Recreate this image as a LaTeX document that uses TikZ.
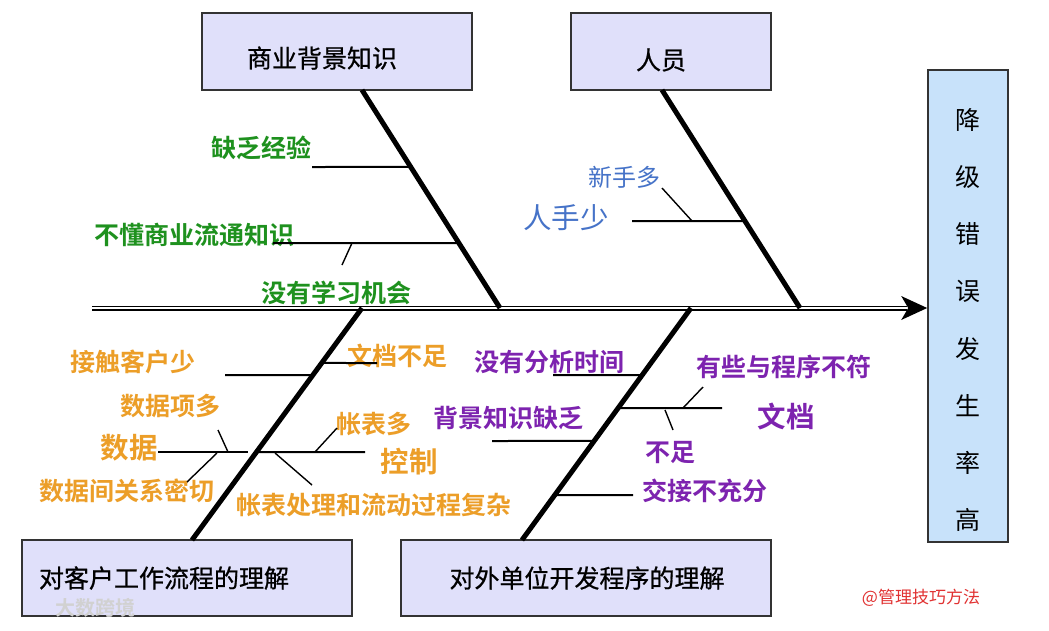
\documentclass[tikz,border=0pt]{standalone}
\usepackage{fontspec}
\setmainfont{Noto Sans CJK SC}[BoldFont=* Bold]
\newfontfamily\titlecjk{Noto Sans CJK SC}[FakeBold=0.7]
\usetikzlibrary{calc}
\definecolor{lav}{RGB}{224,224,250}
\definecolor{effblue}{RGB}{200,226,250}
\definecolor{cgreen}{RGB}{30,145,30}
\definecolor{corange}{RGB}{236,158,40}
\definecolor{cpurple}{RGB}{125,35,175}
\definecolor{cblue}{RGB}{70,115,200}
\definecolor{cred}{RGB}{225,50,50}
\begin{document}
\begin{tikzpicture}[x=1pt,y=-1pt,
  catbox/.style={draw=black!80,line width=1.6pt,fill=lav,inner sep=0},
  effbox/.style={draw=black!80,line width=1.6pt,fill=effblue,inner sep=0},
  title/.style={inner sep=0,font=\fontsize{25}{30}\titlecjk},
  lbl/.style={inner sep=0,font=\fontsize{25}{30}\selectfont\bfseries},
  biglbl/.style={inner sep=0,font=\fontsize{28.5}{32}\selectfont\bfseries},
  bone/.style={line width=5pt},
  twig/.style={line width=2pt},
  tickln/.style={line width=1.4pt},
  spine/.style={line width=1.3pt,double=white,double distance=2.4pt}]
\useasboundingbox (0,0) rectangle (1049,630);
\fill[white] (0,0) rectangle (1049,630);

% category boxes
\node[catbox,minimum width=270,minimum height=77] (bizbox) at (337,51.5) {};
\node[title] (biztxt) at (322,58) {商业背景知识};
\node[catbox,minimum width=200,minimum height=77] (pplbox) at (671,51.5) {};
\node[title] (ppltxt) at (661,60) {人员};
\node[catbox,minimum width=330,minimum height=76] (custbox) at (187,578) {};
\node[title] (custtxt) at (164,578) {对客户工作流程的理解};
\node[catbox,minimum width=370,minimum height=76] (devbox) at (586,578) {};
\node[title] (devtxt) at (587,578) {对外单位开发程序的理解};

% effect box
\node[effbox,minimum width=80,minimum height=472] (effect) at (968,306) {};
\node[inner sep=0,align=center,font=\fontsize{25}{57.1}\selectfont] (efftxt) at (968,320)
  {降\\级\\错\\误\\发\\生\\率\\高};

% spine
\coordinate (tail) at (92,308);
\coordinate (head) at (effect.west |- tail);
\draw[spine] (tail) -- ($(head)+(-20,0)$);
\fill (head) -- ++(-26,-12) -- ++(7,12) -- ++(-7,12) -- cycle;

% bones
\coordinate (tTL) at (362,90);  \coordinate (jTL) at (500,308);
\coordinate (tTR) at (662,90);  \coordinate (jTR) at (800,308);
\coordinate (jBL) at (362,308); \coordinate (tBL) at (192,540);
\coordinate (jBR) at (691,308); \coordinate (tBR) at (522,540);
\draw[bone] (tTL) -- (jTL);
\draw[bone] (tTR) -- (jTR);
\draw[bone] (jBL) -- (tBL);
\draw[bone] (jBR) -- (tBR);

% --- top-left: business background
\node[lbl,text=cgreen] (l1) at (261,148) {缺乏经验};
\node[lbl,text=cgreen] (l2) at (194,235) {不懂商业流通知识};
\node[lbl,text=cgreen] (l3) at (336,293) {没有学习机会};
\coordinate (a1) at (312,167); \coordinate (b1) at ($(tTL)!0.353!(jTL)$);
\draw[twig] (a1) -- (b1);
\coordinate (a2) at (273,243); \coordinate (b2) at ($(tTL)!0.702!(jTL)$);
\draw[twig] (a2) -- (b2);
\coordinate (c2) at (352,243); \coordinate (d2) at (342,265);
\draw[tickln] (c2) -- (d2);

% --- top-right: people
\node[lbl,text=cblue,font=\fontsize{24}{28}\selectfont] (p1) at (624,177) {新手多};
\node[biglbl,text=cblue,font=\fontsize{28.5}{32}\selectfont] (p2) at (566,218) {人手少};
\coordinate (a3) at (632,221); \coordinate (b3) at ($(tTR)!0.601!(jTR)$);
\draw[twig] (a3) -- (b3);
\coordinate (c3) at (692,221); \coordinate (d3) at (662,188);
\draw[tickln] (c3) -- (d3);

% --- bottom-left: customer workflow
\node[lbl,text=corange] (o1) at (133,362) {接触客户少};
\node[lbl,text=corange] (o2) at (397,356) {文档不足};
\node[lbl,text=corange] (o3) at (170,406) {数据项多};
\node[biglbl,text=corange] (o4) at (129,448) {数据};
\node[lbl,text=corange] (o5) at (127,491) {数据间关系密切};
\node[lbl,text=corange] (o6) at (374,424) {帐表多};
\node[biglbl,text=corange] (o7) at (409,462) {控制};
\node[lbl,text=corange] (o8) at (374,505) {帐表处理和流动过程复杂};
\coordinate (a4) at (225,375); \coordinate (b4) at ($(jBL)!0.289!(tBL)$);
\draw[twig] (a4) -- (b4);
\coordinate (b5) at ($(jBL)!0.237!(tBL)$); \coordinate (a5) at (377,363);
\draw[twig] (b5) -- (a5);
\coordinate (a6) at (158,452); \coordinate (a6e) at (248,452);
\draw[twig] (a6) -- (a6e);
\coordinate (b7) at ($(jBL)!0.621!(tBL)$); \coordinate (a7) at (365,452);
\draw[twig] (b7) -- (a7);
\coordinate (c8) at (228,452); \coordinate (d8) at (218,430);
\draw[tickln] (c8) -- (d8);
\coordinate (c9) at (217,453); \coordinate (d9) at (187,482);
\draw[tickln] (c9) -- (d9);
\coordinate (c10) at (315,452); \coordinate (d10) at (337,428);
\draw[tickln] (c10) -- (d10);
\coordinate (c11) at (275,453); \coordinate (d11) at (312,485);
\draw[tickln] (c11) -- (d11);

% --- bottom-right: external developer
\node[lbl,text=cpurple] (q1) at (549,362) {没有分析时间};
\node[lbl,text=cpurple] (q2) at (508,418) {背景知识缺乏};
\node[lbl,text=cpurple] (q3) at (784,367) {有些与程序不符};
\node[biglbl,text=cpurple] (q4) at (786,417) {文档};
\node[lbl,text=cpurple] (q5) at (670,453) {不足};
\node[lbl,text=cpurple] (q6) at (705,491) {交接不充分};
\coordinate (a12) at (553,375); \coordinate (b12) at ($(jBR)!0.289!(tBR)$);
\draw[twig] (a12) -- (b12);
\coordinate (a13) at (492,441); \coordinate (b13) at ($(jBR)!0.573!(tBR)$);
\draw[twig] (a13) -- (b13);
\coordinate (b14) at ($(jBR)!0.431!(tBR)$); \coordinate (a14) at (722,408);
\draw[twig] (b14) -- (a14);
\coordinate (b15) at ($(jBR)!0.806!(tBR)$); \coordinate (a15) at (633,495);
\draw[twig] (b15) -- (a15);
\coordinate (c16) at (683,408); \coordinate (d16) at (703,387);
\draw[tickln] (c16) -- (d16);
\coordinate (c17) at (665,410); \coordinate (d17) at (673,430);
\draw[tickln] (c17) -- (d17);

% watermarks
\node[inner sep=0,text=black!18,font=\fontsize{20}{24}\selectfont\bfseries] (wm1) at (95,608) {大数跨境};
\node[inner sep=0,text=cred,font=\fontsize{17}{20}\selectfont] (wm2) at (921,598) {@管理技巧方法};
\end{tikzpicture}
\end{document}
